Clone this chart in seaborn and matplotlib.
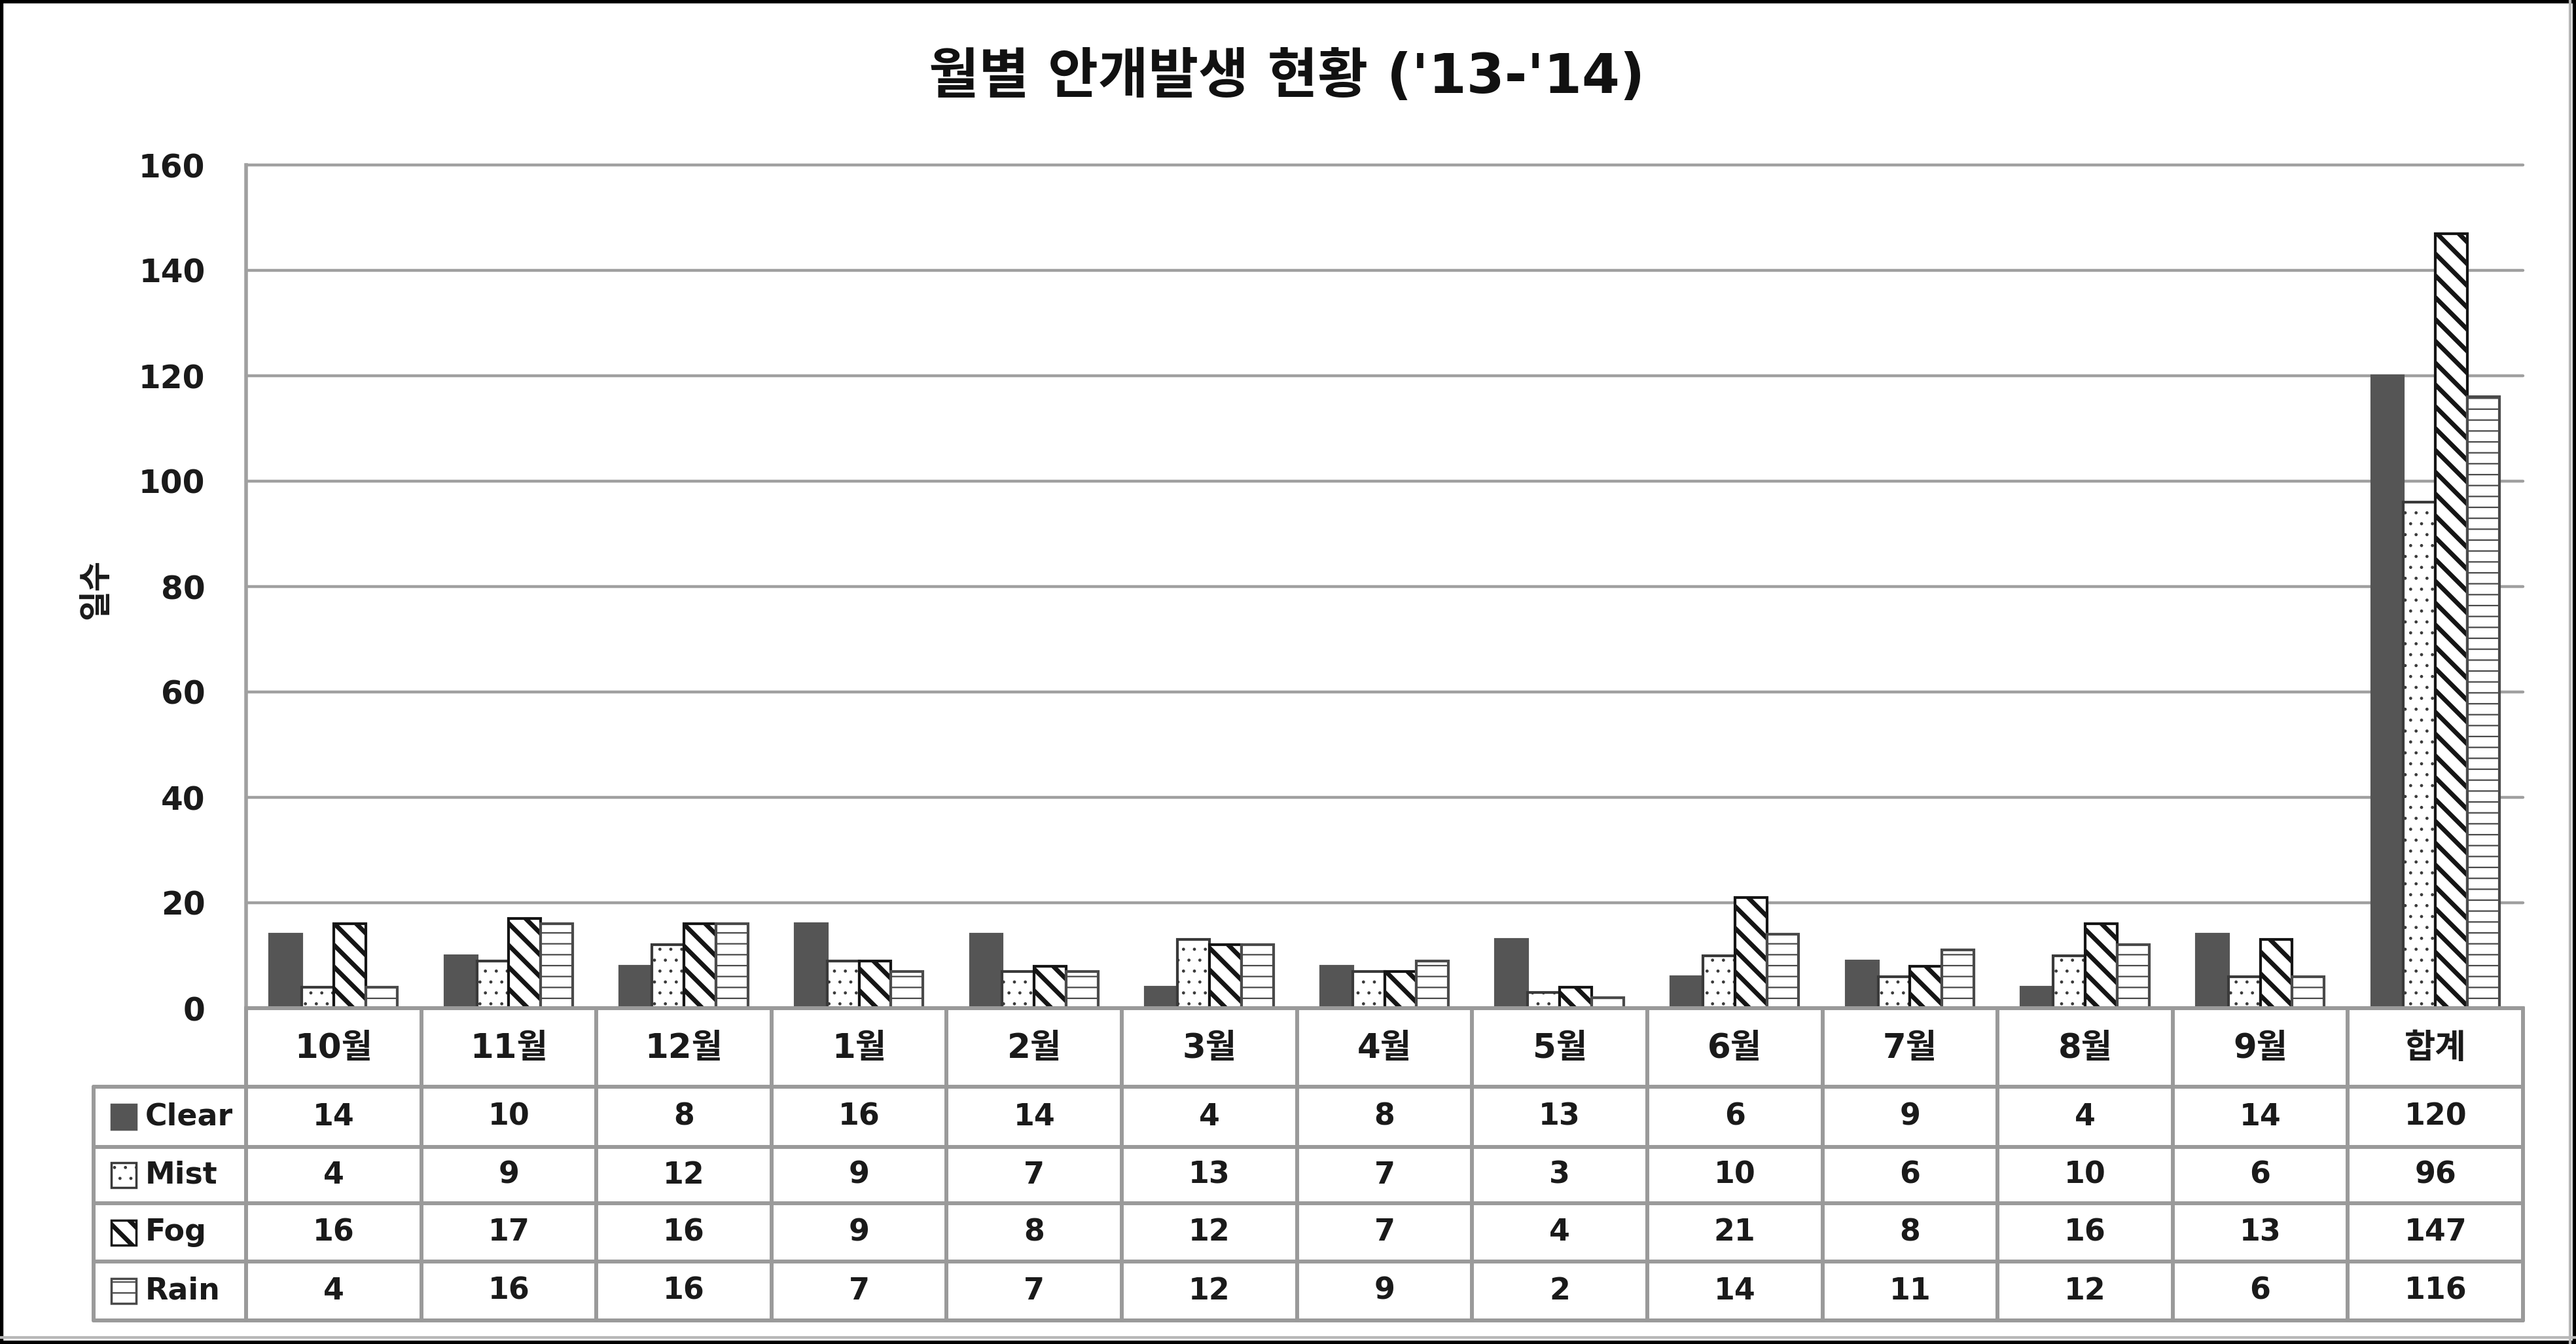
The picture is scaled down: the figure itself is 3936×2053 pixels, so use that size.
import numpy as np
import pandas as pd
import matplotlib
matplotlib.use("Agg")
import matplotlib.pyplot as plt
import seaborn as sns
from matplotlib.patches import Rectangle
from matplotlib.lines import Line2D

# ---------------- data ----------------
months = ["10월", "11월", "12월", "1월", "2월", "3월", "4월", "5월", "6월", "7월", "8월", "9월", "합계"]
series = ["Clear", "Mist", "Fog", "Rain"]
clear = [14, 10, 8, 16, 14, 4, 8, 13, 6, 9, 4, 14, 120]
mist = [4, 9, 12, 9, 7, 13, 7, 3, 10, 6, 10, 6, 96]
fog = [16, 17, 16, 9, 8, 12, 7, 4, 21, 8, 16, 13, 147]
rain = [4, 16, 16, 7, 7, 12, 9, 2, 14, 11, 12, 6, 116]
yticks = [0, 20, 40, 60, 80, 100, 120, 140, 160]
title = "월별 안개발생 현황 ('13-'14)"
ylabel = "일수"

values = {"Clear": clear, "Mist": mist, "Fog": fog, "Rain": rain}
df = pd.concat(
    [pd.DataFrame({"month": months, "series": s, "days": values[s]}) for s in series],
    ignore_index=True,
)

# ---------------- style ----------------
sns.set_theme(style="white")
plt.rcParams["font.family"] = ["DejaVu Sans", "Noto Sans CJK KR"]
plt.rcParams["hatch.linewidth"] = 3.0
plt.rcParams["axes.unicode_minus"] = False

styles = {
    "Clear": dict(fc="#555555", ec="#555555", hatch=None, hlw=1.0),
    "Mist": dict(fc="white", ec="#3a3a3a", hatch=".", hlw=1.0),
    "Fog": dict(fc="white", ec="#151515", hatch="\\", hlw=5.0),
    "Rain": dict(fc="white", ec="#4a4a4a", hatch="-", hlw=1.6),
}
GRID = "#a0a0a0"
TLINE = "#9a9a9a"
TXT = "#1a1a1a"


def style_patch(p, st, lw):
    p.set_facecolor(st["fc"])
    p.set_edgecolor(st["ec"])
    p.set_hatch(st["hatch"])
    p.set_linewidth(lw)
    if hasattr(p, "set_hatch_linewidth"):
        p.set_hatch_linewidth(st["hlw"])


W, H = 3936, 2053
fig = plt.figure(figsize=(W / 100, H / 100), dpi=100)
fig.patch.set_facecolor("white")

# plot area in pixels
L, R, T, B = 376, 3855, 252, 1540
ax = fig.add_axes([L / W, 1 - B / H, (R - L) / W, (B - T) / H])

sns.barplot(
    data=df, x="month", y="days", hue="series", order=months, hue_order=series,
    palette=["#555555", "white", "white", "white"], saturation=1, width=0.73,
    ax=ax, legend=False,
)
for cont, s in zip(ax.containers, series):
    for p in cont:
        style_patch(p, styles[s], 3.0)
        p.set_zorder(3)

ax.set_xlim(-0.5, len(months) - 0.5)
ax.set_ylim(0, 160)
ax.set_yticks(yticks)
ax.set_xticks([])
ax.set_xlabel("")
ax.set_ylabel("")
ax.set_axisbelow(True)
ax.yaxis.grid(True, color=GRID, linewidth=3.2)
for gl in ax.get_ygridlines():
    gl.set_clip_on(False)
ax.tick_params(axis="y", length=0, pad=45, labelsize=35, labelcolor=TXT)
for lab in ax.get_yticklabels():
    lab.set_fontweight("bold")
for sp in ["top", "right"]:
    ax.spines[sp].set_visible(False)
for sp in ["left", "bottom"]:
    ax.spines[sp].set_color(GRID)
    ax.spines[sp].set_linewidth(4.0)
ax.patch.set_alpha(0)

ax.text(-0.0658, 0.497, ylabel, transform=ax.transAxes, rotation=90,
        ha="center", va="center", fontsize=36, fontweight="bold", color=TXT)

fig.text(1966 / W, 1 - 118 / H, title, ha="center", va="center",
         fontsize=60, fontweight="bold", color="#111111")

# ---------------- data table ----------------
TL, TB = 143, 2017
cw = (R - L) / len(months)
x_left = -0.5 - (L - TL) / cw
tax = fig.add_axes([TL / W, 1 - TB / H, (R - TL) / W, (TB - B) / H])
tax.set_xlim(x_left, len(months) - 0.5)
tax.set_ylim(TB, B)
tax.axis("off")

row_y = [B, 1660, 1752, 1838, 1927, TB]
lw_t = 4.3
tax.add_line(Line2D([-0.5, len(months) - 0.5], [row_y[0]] * 2, color=TLINE, lw=lw_t, clip_on=False))
for y in row_y[1:]:
    tax.add_line(Line2D([x_left, len(months) - 0.5], [y, y], color=TLINE, lw=lw_t, clip_on=False))
tax.add_line(Line2D([x_left, x_left], [row_y[1], TB], color=TLINE, lw=lw_t, clip_on=False))
for k in range(len(months) + 1):
    xx = -0.5 + k
    tax.add_line(Line2D([xx, xx], [B, TB], color=TLINE, lw=lw_t, clip_on=False))

centers = [(row_y[i] + row_y[i + 1]) / 2 for i in range(5)]
for i, m in enumerate(months):
    tax.text(i, centers[0] + 2, m, ha="center", va="center", fontsize=37,
             fontweight="bold", color=TXT)
for r, s in enumerate(series):
    yc = centers[r + 1]
    for i, v in enumerate(values[s]):
        tax.text(i, yc, f"{v}", ha="center", va="center", fontsize=33,
                 fontweight="bold", color=TXT)
    # legend key
    st = styles[s]
    sw = 38 / cw
    x0 = x_left + (170 - TL) / cw
    key = Rectangle((x0, yc - 19), sw, 38)
    style_patch(key, st, 2.5)
    tax.add_patch(key)
    tax.text(x_left + (222 - TL) / cw, yc, s, ha="left", va="center",
             fontsize=33, fontweight="bold", color=TXT)

# ---------------- outer frame ----------------
fig.add_artist(Line2D([3927 / W, 3927 / W], [0, 1], transform=fig.transFigure, color="#b8b8b8", lw=3))
fig.add_artist(Line2D([0, 1], [1 - 2043 / H] * 2, transform=fig.transFigure, color="#b8b8b8", lw=3))
fig.add_artist(Rectangle((0, 0), 1, 1, transform=fig.transFigure, fill=False,
                         edgecolor="black", linewidth=7.5))

fig.savefig("out.png", dpi=100)
